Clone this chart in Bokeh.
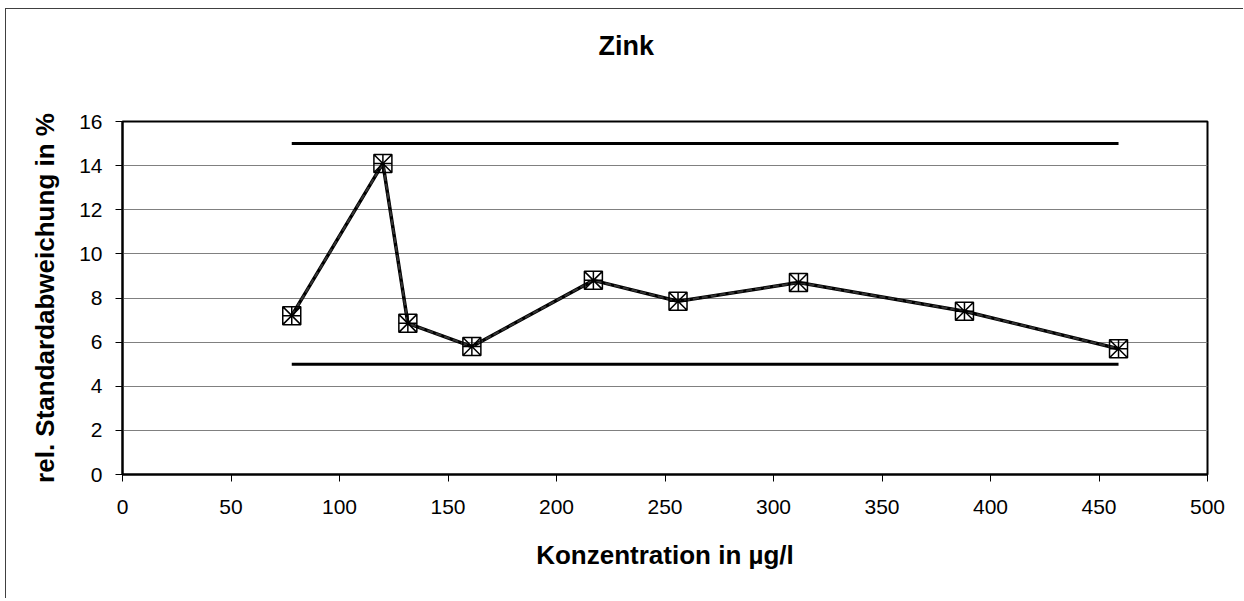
from bokeh.plotting import figure
from bokeh.models import Range1d, FixedTicker, Title
from bokeh.embed import file_html
from bokeh.resources import INLINE

# Data
konzentration = [78, 120, 131.5, 161, 217, 256, 311.5, 388, 459]
rsd = [7.2, 14.1, 6.85, 5.8, 8.8, 7.85, 8.7, 7.4, 5.7]
limit_x = [78, 459]
upper_limit = [15, 15]
lower_limit = [5, 5]
x_ticks = [0, 50, 100, 150, 200, 250, 300, 350, 400, 450, 500]
y_ticks = [0, 2, 4, 6, 8, 10, 12, 14, 16]

FONT = "Liberation Sans"

p = figure(width=1238, height=590, output_backend="svg", toolbar_location=None,
           x_range=Range1d(0, 500), y_range=Range1d(0, 16),
           min_border_left=116, min_border_right=37,
           min_border_top=112, min_border_bottom=125,
           title="Zink")
p.styles = {"margin-left": "5px", "margin-top": "8px",
            "border-left": "1px solid #404040", "border-top": "1px solid #404040"}

p.background_fill_color = "white"
p.border_fill_color = "white"
p.outline_line_color = "black"
p.outline_line_width = 2

p.title.text_font = FONT
p.title.text_font_style = "bold"
p.title.text_font_size = "27px"
p.title.text_color = "black"
p.title.align = "left"
p.title.offset = 476
p.title.standoff = 0

# empty spacer between the title and the plot area
spacer = Title(text=" ", text_font_size="1px", standoff=58)
p.add_layout(spacer, "above")

# grid
p.xgrid.grid_line_color = None
p.ygrid.grid_line_color = "#808080"
p.ygrid.grid_line_width = 1
p.ygrid.ticker = FixedTicker(ticks=y_ticks)

for ax in (p.xaxis, p.yaxis):
    ax.axis_line_color = "black"
    ax.axis_line_width = 2
    ax.major_tick_line_color = "black"
    ax.major_tick_line_width = 1
    ax.major_tick_out = 7
    ax.major_tick_in = 0
    ax.minor_tick_line_color = None
    ax.major_label_text_font = FONT
    ax.major_label_text_font_size = "21px"
    ax.major_label_text_color = "black"
    ax.axis_label_text_font = FONT
    ax.axis_label_text_font_style = "bold"
    ax.axis_label_text_font_size = "26px"
    ax.axis_label_text_color = "black"

p.xaxis.ticker = FixedTicker(ticks=x_ticks)
p.yaxis.ticker = FixedTicker(ticks=y_ticks)
p.xaxis.major_label_standoff = 18
p.yaxis.major_label_standoff = 13
p.xaxis.axis_label = "Konzentration in µg/l"
p.yaxis.axis_label = "rel. Standardabweichung in %"
p.xaxis.axis_label_standoff = 23
p.yaxis.axis_label_standoff = 16

# limit lines
p.line(limit_x, upper_limit, line_color="black", line_width=3)
p.line(limit_x, lower_limit, line_color="black", line_width=3)

# data series (two overlaid series as in the original)
p.line(konzentration, rsd, line_color="black", line_width=3.5)
p.line(konzentration, rsd, line_color="#333333", line_width=2, line_dash="6 3")
p.scatter(konzentration, rsd, marker="square_x", size=18, fill_color=None,
          line_color="black", line_width=1.5)
p.scatter(konzentration, rsd, marker="cross", size=18, fill_color=None,
          line_color="black", line_width=1.5)

open("out.html", "w").write(file_html(p, INLINE))
